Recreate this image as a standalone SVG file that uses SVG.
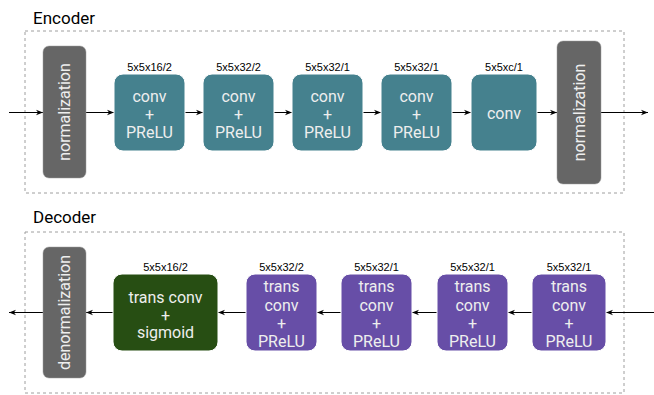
<svg xmlns="http://www.w3.org/2000/svg" width="654" height="395" viewBox="0 0 654 395">
<defs>
<marker id="ah" viewBox="0 0 10 10" refX="10" refY="5" markerWidth="7" markerHeight="7" markerUnits="userSpaceOnUse" orient="auto">
<path d="M0,1 L10,5 L0,9 L3,5 Z" fill="#000"/>
</marker>
</defs>
<style>
text{font-family:Roboto,"Liberation Sans",sans-serif}
.title{font-size:17px;fill:#000}
.frame{fill:none;stroke:#9e9e9e;stroke-width:1;stroke-dasharray:3 3}
.norm{fill:#666666;stroke:#9e9e9e;stroke-width:0.5}
.enc{fill:#45818e;stroke:#ffffff;stroke-width:1}
.dec{fill:#674ea7;stroke:#ffffff;stroke-width:1}
.sig{fill:#274e13;stroke:#ffffff;stroke-width:1}
.t{font-size:16px;fill:#eeeeee;text-anchor:middle}
.lbl{font-family:"Liberation Sans",Arial,sans-serif;font-size:11px;fill:#000;text-anchor:middle}
.edge{stroke:#000;stroke-width:1;fill:none;marker-end:url(#ah)}
</style>
<rect width="654" height="395" fill="#ffffff"/>

<g id="encoder-frame">
<text class="title" x="33" y="23.5">Encoder</text>
<rect class="frame" x="25" y="31" width="599" height="162"/>
</g>
<g id="decoder-frame">
<text class="title" x="33" y="223">Decoder</text>
<rect class="frame" x="25" y="232" width="599" height="161"/>
</g>

<g id="connectors">
<line class="edge" x1="9" y1="112.5" x2="43" y2="112.5"/>
<line class="edge" x1="86" y1="112.5" x2="114" y2="112.5"/>
<line class="edge" x1="185" y1="112.5" x2="203" y2="112.5"/>
<line class="edge" x1="274" y1="112.5" x2="292" y2="112.5"/>
<line class="edge" x1="363" y1="112.5" x2="381" y2="112.5"/>
<line class="edge" x1="452" y1="112.5" x2="471" y2="112.5"/>
<line class="edge" x1="537" y1="112.5" x2="557" y2="112.5"/>
<line class="edge" x1="601" y1="112.5" x2="648" y2="112.5"/>
<line class="edge" x1="654" y1="312.5" x2="606" y2="312.5"/>
<line class="edge" x1="532" y1="312.5" x2="508" y2="312.5"/>
<line class="edge" x1="437" y1="312.5" x2="412" y2="312.5"/>
<line class="edge" x1="341" y1="312.5" x2="317" y2="312.5"/>
<line class="edge" x1="246" y1="312.5" x2="218" y2="312.5"/>
<line class="edge" x1="113" y1="312.5" x2="86" y2="312.5"/>
<line class="edge" x1="43" y1="312.5" x2="9" y2="312.5"/>
</g>

<g id="enc-norm-in">
<rect class="norm" x="43" y="46" width="43" height="132" rx="6"/>
<text class="t" transform="translate(64.5,112) rotate(-90)" y="5.5">normalization</text>
</g>
<g id="enc-conv1">
<text class="lbl" x="149.5" y="71">5x5x16/2</text>
<rect class="enc" x="114" y="74" width="71" height="77" rx="9"/>
<text class="t" x="149.5" y="101.5">conv</text>
<text class="t" x="149.5" y="119.5">+</text>
<text class="t" x="149.5" y="138">PReLU</text>
</g>
<g id="enc-conv2">
<text class="lbl" x="238.5" y="71">5x5x32/2</text>
<rect class="enc" x="203" y="74" width="71" height="77" rx="9"/>
<text class="t" x="238.5" y="101.5">conv</text>
<text class="t" x="238.5" y="119.5">+</text>
<text class="t" x="238.5" y="138">PReLU</text>
</g>
<g id="enc-conv3">
<text class="lbl" x="327.5" y="71">5x5x32/1</text>
<rect class="enc" x="292" y="74" width="71" height="77" rx="9"/>
<text class="t" x="327.5" y="101.5">conv</text>
<text class="t" x="327.5" y="119.5">+</text>
<text class="t" x="327.5" y="138">PReLU</text>
</g>
<g id="enc-conv4">
<text class="lbl" x="416.5" y="71">5x5x32/1</text>
<rect class="enc" x="381" y="74" width="71" height="77" rx="9"/>
<text class="t" x="416.5" y="101.5">conv</text>
<text class="t" x="416.5" y="119.5">+</text>
<text class="t" x="416.5" y="138">PReLU</text>
</g>
<g id="enc-conv5">
<text class="lbl" x="504" y="71">5x5xc/1</text>
<rect class="enc" x="471" y="74" width="66" height="77" rx="9"/>
<text class="t" x="504" y="119">conv</text>
</g>
<g id="enc-norm-out">
<rect class="norm" x="557" y="41" width="44" height="143" rx="6"/>
<text class="t" transform="translate(579,112.5) rotate(-90)" y="5.5">normalization</text>
</g>

<g id="dec-tconv4">
<text class="lbl" x="569" y="271">5x5x32/1</text>
<rect class="dec" x="532" y="274" width="74" height="77" rx="9"/>
<text class="t" x="569" y="292">trans</text>
<text class="t" x="569" y="311">conv</text>
<text class="t" x="569" y="329">+</text>
<text class="t" x="569" y="347">PReLU</text>
</g>
<g id="dec-tconv3">
<text class="lbl" x="472.5" y="271">5x5x32/1</text>
<rect class="dec" x="437" y="274" width="71" height="77" rx="9"/>
<text class="t" x="472.5" y="292">trans</text>
<text class="t" x="472.5" y="311">conv</text>
<text class="t" x="472.5" y="329">+</text>
<text class="t" x="472.5" y="347">PReLU</text>
</g>
<g id="dec-tconv2">
<text class="lbl" x="376.5" y="271">5x5x32/1</text>
<rect class="dec" x="341" y="274" width="71" height="77" rx="9"/>
<text class="t" x="376.5" y="292">trans</text>
<text class="t" x="376.5" y="311">conv</text>
<text class="t" x="376.5" y="329">+</text>
<text class="t" x="376.5" y="347">PReLU</text>
</g>
<g id="dec-tconv1">
<text class="lbl" x="281.5" y="271">5x5x32/2</text>
<rect class="dec" x="246" y="274" width="71" height="77" rx="9"/>
<text class="t" x="281.5" y="292">trans</text>
<text class="t" x="281.5" y="311">conv</text>
<text class="t" x="281.5" y="329">+</text>
<text class="t" x="281.5" y="347">PReLU</text>
</g>
<g id="dec-tconv-sigmoid">
<text class="lbl" x="165.5" y="271">5x5x16/2</text>
<rect class="sig" x="113" y="274" width="105" height="77" rx="9"/>
<text class="t" x="165.5" y="302.5">trans conv</text>
<text class="t" x="165.5" y="320.5">+</text>
<text class="t" x="165.5" y="338">sigmoid</text>
</g>
<g id="dec-denorm">
<rect class="norm" x="43" y="247" width="43" height="131" rx="6"/>
<text class="t" transform="translate(64.5,312.5) rotate(-90)" y="5.5">denormalization</text>
</g>
</svg>
